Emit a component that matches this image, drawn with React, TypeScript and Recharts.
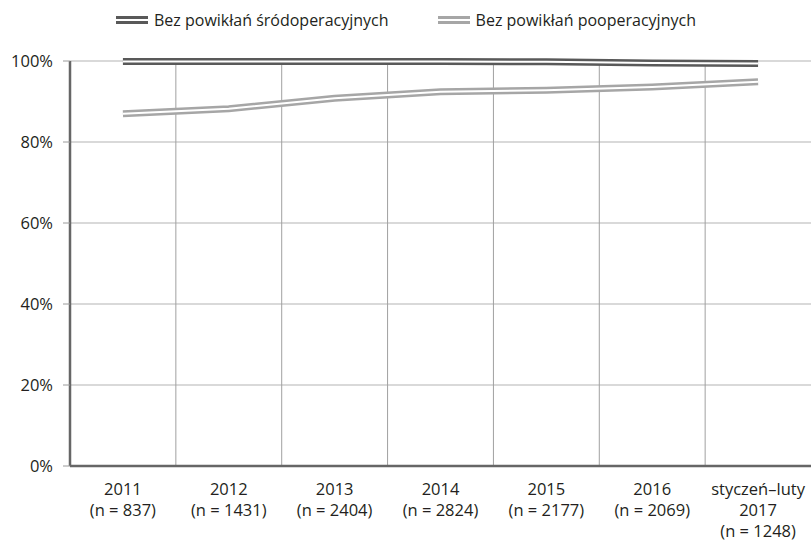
import React from "react";
import {
  CartesianGrid,
  Line,
  LineChart,
  ReferenceLine,
  XAxis,
  YAxis,
} from "recharts";

const years = ["2011", "2012", "2013", "2014", "2015", "2016", "styczeń–luty\n2017"];
const counts = [837, 1431, 2404, 2824, 2177, 2069, 1248];
const intraop = [99.9, 99.9, 99.9, 99.9, 99.8, 99.5, 99.4];
const postop = [87.0, 88.2, 90.8, 92.4, 92.8, 93.6, 94.9];
const yTicks = [0, 20, 40, 60, 80, 100];
const seriesNames = ["Bez powikłań śródoperacyjnych", "Bez powikłań pooperacyjnych"];

const DARK = "#595959";
const LIGHT = "#a6a6a6";
const TEXT = "#231f20";
const FONT = "'Open Sans', sans-serif";

const data = years.map((y, i) => ({
  pos: i + 0.5,
  label: y,
  n: counts[i],
  intraop: intraop[i],
  postop: postop[i],
}));

function XTick({ x, y, payload }: any) {
  const row = data.find((d) => d.pos === payload.value);
  if (!row) return null;
  const lines = [...row.label.split("\n"), `(n = ${row.n})`];
  return (
    <text x={x} y={y} textAnchor="middle" fill={TEXT} fontSize={16.5} fontFamily={FONT}>
      {lines.map((l, i) => (
        <tspan key={i} x={x} dy={i === 0 ? 21 : 21}>
          {l}
        </tspan>
      ))}
    </text>
  );
}

function DoubleSwatch({ color }: { color: string }) {
  return (
    <svg width={32} height={8} style={{ display: "block" }}>
      <rect x={0} y={0} width={32} height={8} fill={color} />
      <rect x={0} y={3} width={32} height={2} fill="#fff" />
    </svg>
  );
}

function LegendBox() {
  const colors = [DARK, LIGHT];
  return (
    <div
      style={{
        position: "absolute",
        top: 9,
        left: 0,
        display: "flex",
        alignItems: "center",
        paddingLeft: 116,
        gap: 49,
        fontFamily: FONT,
        fontSize: 16,
        color: TEXT,
      }}
    >
      {seriesNames.map((name, i) => (
        <div key={name} style={{ display: "flex", alignItems: "center", gap: 6 }}>
          <DoubleSwatch color={colors[i]} />
          <span>{name}</span>
        </div>
      ))}
    </div>
  );
}

export default function App() {
  return (
    <div style={{ position: "absolute", left: 0, top: 0, width: 811, height: 541, background: "#fff" }}>
      <LineChart width={811} height={541} data={data} margin={{ top: 61, right: 0, left: 0, bottom: 0 }}>
        <CartesianGrid vertical={false} stroke="#b3b3b3" strokeWidth={1} />
        <XAxis
          dataKey="pos"
          type="number"
          domain={[0, 7]}
          ticks={data.map((d) => d.pos)}
          tick={<XTick />}
          tickLine={false}
          axisLine={false}
          height={75}
          interval={0}
        />
        <YAxis
          domain={[0, 100]}
          ticks={yTicks}
          tickFormatter={(v: number) => `${v}%`}
          width={70}
          tickSize={7}
          tickMargin={10}
          tickLine={{ stroke: "#9a9a9a" }}
          axisLine={false}
          tick={{ fill: TEXT, fontSize: 16.5, fontFamily: FONT }}
        />
        {[1, 2, 3, 4, 5, 6].map((b) => (
          <ReferenceLine key={b} x={b} stroke="#a0a0a0" strokeWidth={1} />
        ))}
        <ReferenceLine x={0} stroke="#666" strokeWidth={2.5} />
        <ReferenceLine y={0} stroke="#666" strokeWidth={2.5} />
        <Line dataKey="intraop" stroke={DARK} strokeWidth={7} dot={false} isAnimationActive={false} />
        <Line dataKey="intraop" stroke="#fff" strokeWidth={2} dot={false} isAnimationActive={false} />
        <Line dataKey="postop" stroke={LIGHT} strokeWidth={7} dot={false} isAnimationActive={false} />
        <Line dataKey="postop" stroke="#fff" strokeWidth={2} dot={false} isAnimationActive={false} />
      </LineChart>
      <LegendBox />
    </div>
  );
}
